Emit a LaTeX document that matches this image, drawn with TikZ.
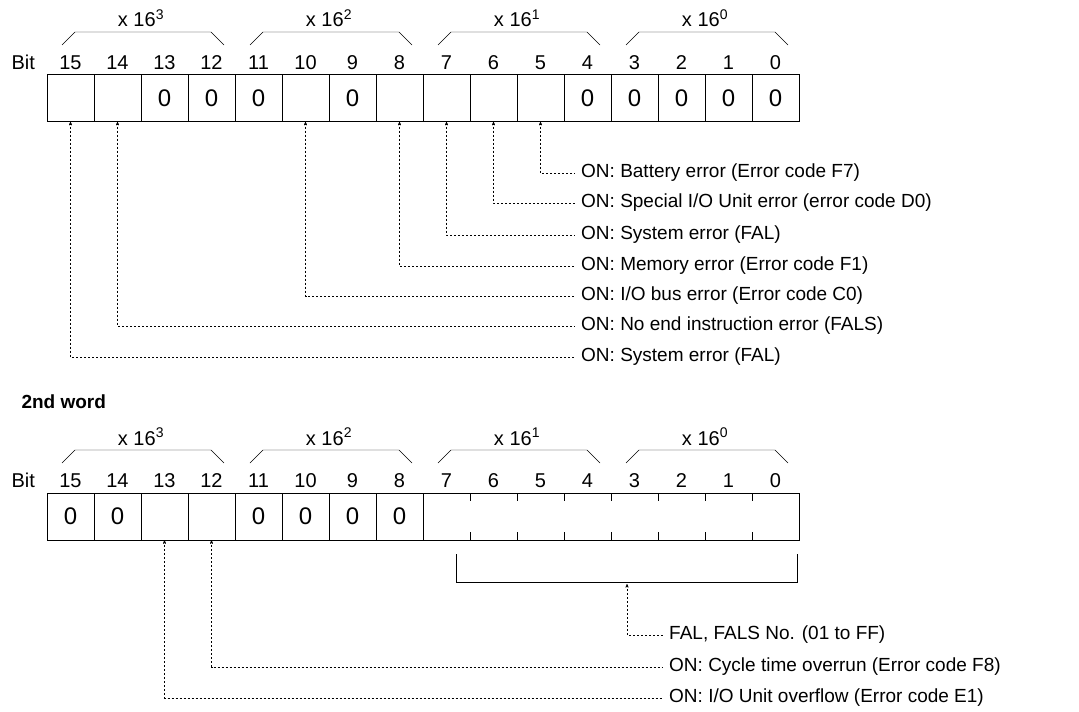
\documentclass[tikz,border=0pt]{standalone}
\usepackage{fontspec}
\setmainfont{Liberation Sans}
\usetikzlibrary{arrows,positioning}
\tikzset{
    %Define standard arrow tip
    >=stealth',
    %Define style for bit cells
    bitcell/.style={
   	rectangle,
   	draw=black, thin,
   	minimum width=47pt,
   	minimum height=47pt,
   	inner sep=0pt,
   	font=\fontsize{24}{24}\selectfont,
   	text centered
   },
    bitnum/.style={font=\fontsize{20}{20}\selectfont, anchor=base},
    grp/.style={font=\fontsize{20}{20}\selectfont, anchor=base},
    msg/.style={font=\fontsize{19}{19}\selectfont, anchor=west, inner sep=6pt},
    % Define arrow style
    pil/.style={
           <-,
           thin,
           dash pattern=on 2pt off 2pt},
}
\begin{document}
\begin{tikzpicture}[x=1pt,y=-1pt]
\useasboundingbox (0,0) rectangle (1079,712);
%first word
\node[bitnum, anchor=base west] (bit1) at (8,69) {Bit};
\foreach \b/\v in {15/,14/,13/0,12/0,11/0,10/,9/0,8/,7/,6/,5/,4/0,3/0,2/0,1/0,0/0}{
  \node[bitcell] (t\b) at ({47+47*(15-\b)+23.5},98) {\v};
  \node[bitnum] (tn\b) at ({47+47*(15-\b)+23.5},69) {\b};
}
\foreach \g in {3,2,1,0}{
  \draw[thin] ({47+188*(3-\g)+15},45) -- ++(13,-13) -- ++(136,0) -- ++(13,13);
  \node[grp] (tg\g) at ({47+47*(4*(3-\g)+2)},27) {x 16\textsuperscript{\g}};
}
%messages
\node[msg] (m5) at (575,173) {ON: Battery error (Error code F7)};
\node[msg] (m6) at (575,203) {ON: Special I/O Unit error (error code D0)};
\node[msg] (m7) at (575,235) {ON: System error (FAL)};
\node[msg] (m8) at (575,266) {ON: Memory error (Error code F1)};
\node[msg] (m10) at (575,296) {ON: I/O bus error (Error code C0)};
\node[msg] (m14) at (575,326) {ON: No end instruction error (FALS)};
\node[msg] (m15) at (575,357) {ON: System error (FAL)};
\foreach \b in {5,6,7,8,10,14,15}
  \draw[pil] (t\b.south) |- (m\b.west);
%second word
\node[font=\fontsize{19}{19}\selectfont\bfseries, anchor=base west] (w2) at (18,408) {2nd word};
\node[bitnum, anchor=base west] (bit2) at (8,487) {Bit};
\foreach \b/\v in {15/0,14/0,13/,12/,11/0,10/0,9/0,8/0}{
  \node[bitcell] (b\b) at ({47+47*(15-\b)+23.5},516.5) {\v};
}
\foreach \b in {15,...,0}
  \node[bitnum] (bn\b) at ({47+47*(15-\b)+23.5},487) {\b};
\node[draw, thin, minimum width=376pt, minimum height=47pt, inner sep=0pt] (blow) at (611,516.5) {};
\foreach \i in {1,...,7}{
  \draw[thin] ({423+47*\i},493) -- ++(0,8);
  \draw[thin] ({423+47*\i},540) -- ++(0,-8);
}
\foreach \g in {3,2,1,0}{
  \draw[thin] ({47+188*(3-\g)+15},463) -- ++(13,-13) -- ++(136,0) -- ++(13,13);
  \node[grp] (bg\g) at ({47+47*(4*(3-\g)+2)},445) {x 16\textsuperscript{\g}};
}
%bracket over bits 7 to 0
\draw[thin] (456,554) -- (456,582) -- (797,582) -- (797,554);
\coordinate (brm) at (627,584);
\node[msg] (mfal) at (663,635) {FAL, FALS No. (01 to FF)};
\node[msg] (m12) at (663,667) {ON: Cycle time overrun (Error code F8)};
\node[msg] (m13) at (663,698) {ON: I/O Unit overflow (Error code E1)};
\draw[pil] (brm) |- (mfal.west);
\draw[pil] (b12.south) |- (m12.west);
\draw[pil] (b13.south) |- (m13.west);
\end{tikzpicture}
\end{document}
